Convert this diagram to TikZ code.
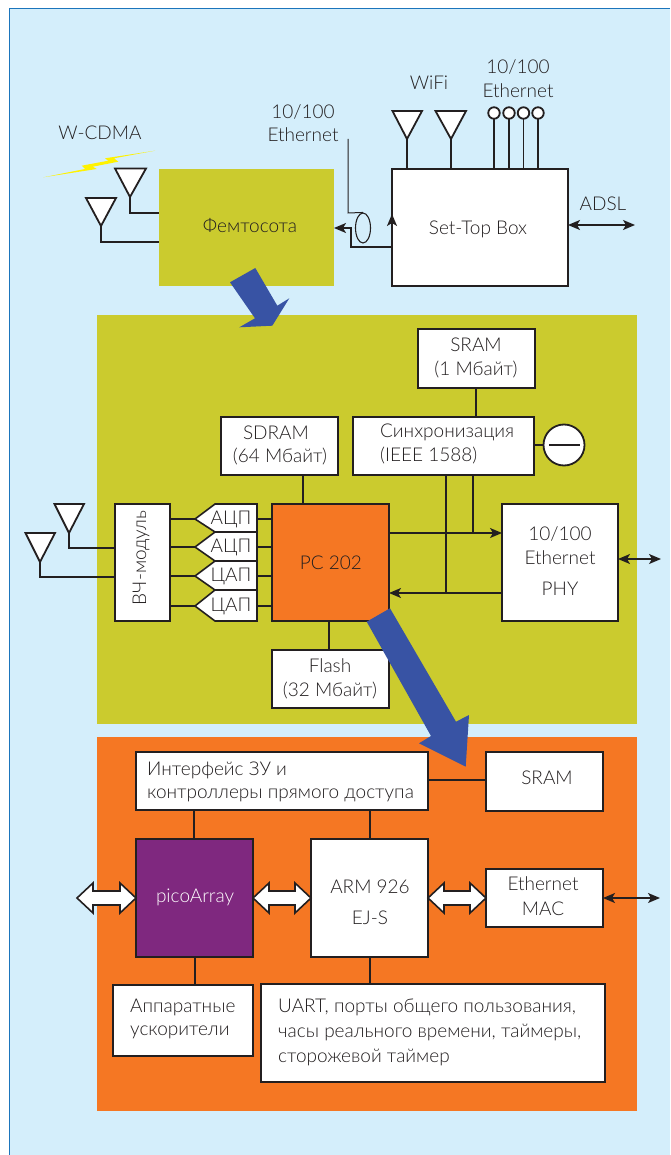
\documentclass[tikz,border=0pt]{standalone}
\usepackage{fontspec}
\setmainfont{Lato Light}
\usetikzlibrary{arrows.meta,shapes.geometric}
\definecolor{sky}{HTML}{D4EEFB}
\definecolor{edge}{HTML}{1B75BC}
\definecolor{olive}{HTML}{CBCB2E}
\definecolor{orng}{HTML}{F57723}
\definecolor{bluea}{HTML}{3853A4}
\definecolor{purp}{HTML}{7F287F}
\definecolor{ink}{HTML}{231F20}
\definecolor{bolt}{HTML}{FFF200}
\tikzset{
 x=1pt,y=-1pt,
 wbox/.style={draw=ink,line width=1.6pt,fill=white,inner sep=0pt,outer sep=0pt,anchor=north west},
 txt/.style={font=\fontsize{19}{22}\selectfont,text=ink,inner sep=0pt,align=center},
 wire/.style={draw=ink,line width=1.5pt},
 thinw/.style={draw=ink,line width=1pt},
 tip/.style={-{Stealth[length=12pt,width=10pt,inset=3pt]}},
 tiptwo/.style={{Stealth[length=12pt,width=10pt,inset=3pt]}-{Stealth[length=12pt,width=10pt,inset=3pt]}},
 ant/.style={draw=ink,line width=1.8pt,fill=white,line join=miter},
 fat/.style={draw=ink,line width=1.6pt,fill=white,line join=miter},
}
\begin{document}
\begin{tikzpicture}
\useasboundingbox (0,0) rectangle (670,1155);
\fill[white] (0,0) rectangle (670,1155);
\fill[sky] (9.5,9) rectangle (670,1155);
\draw[edge,line width=1pt] (670,9) -- (9.5,9) -- (9.5,1155);
% panels
\fill[olive] (159,169) rectangle (334,286);
\fill[olive] (97,315) rectangle (637,724);
\fill[orng] (97,737) rectangle (637,1111);
\node[txt] (femtolabel) at (250,226) {Фемтосота};
% lightning
\fill[bolt] (155,150.7) -- (105,158.3) -- (108.3,160.7) -- (81.7,165.7) -- (85,169) -- (43.3,177.3) -- (96.7,169) -- (92.7,166.7) -- (118.3,161.7) -- (114,158.3) -- cycle;
\node[txt] (wcdma) at (100,133) {W-CDMA};
% femto antennas
\coordinate (fa) at (130,197); \coordinate (fb) at (101,226);
\draw[wire] (fa) -- (130,213) -- (159,213);
\draw[wire] (fb) -- (101,242) -- (159,242);
\draw[ant] (115,168.5) -- (146,168.5) -- (fa) -- cycle;
\draw[ant] (86,198) -- (116,198) -- (fb) -- cycle;
% set-top
\node[wbox,minimum width=176pt,minimum height=117pt] (stb) at (392,169) {};
\node[txt] (stbl) at (478,229) {Set-Top Box};
\coordinate (wa) at (407,139); \coordinate (wb) at (451,139);
\draw[wire] (wa) -- (wa|-stb.north);
\draw[wire] (wb) -- (wb|-stb.north);
\draw[ant] (392.5,111) -- (422,111) -- (wa) -- cycle;
\draw[ant] (435.5,111) -- (466,111) -- (wb) -- cycle;
\foreach \n/\x in {a/494,b/509,c/523.5,d/538}{
  \draw[wire] (\x,113) -- (\x,169);
  \node[draw=ink,line width=1.8pt,fill=white,circle,minimum size=11.5pt,inner sep=0pt] (port\n) at (\x,113) {};
}
\node[txt] (wifi) at (429,83) {WiFi};
\node[txt] (e1a) at (518,67) {10/100};
\node[txt] (e1b) at (518,91) {Ethernet};
\node[txt] (adsll) at (603,204) {ADSL};
\coordinate (adsl) at (635,225);
\draw[wire,tiptwo] (stb.east|-adsl) -- (adsl);
\node[txt] (e2a) at (303,112) {10/100};
\node[txt] (e2b) at (303,135) {Ethernet};
\coordinate (st) at (392,247);
\draw[wire,tip] (st) -- (351,247) -- (351,228) -- (334,228);
\draw[wire,tip] (st) -- (392,214);
\node[draw=ink,line width=1.1pt,ellipse,minimum width=15pt,minimum height=30pt,inner sep=0pt] (coax) at (363,228) {};
\draw[thinw] (348,139) -- (348,213) -- (coax.north);
% arrow 1
\fill[bluea] (230,282.3) -- (255.3,268) -- (277.3,305.7) -- (289.3,298.3) -- (272.3,325.7) -- (239.3,327.3) -- (255,318.3) -- cycle;
% main block
\node[wbox,minimum width=117pt,minimum height=59pt] (sram1) at (418,329) {};
\node[txt] (sram1a) at (476,345) {SRAM};
\node[txt] (sram1b) at (476,370) {(1 Мбайт)};
\node[wbox,minimum width=181pt,minimum height=58pt] (sync) at (353,417) {};
\node[txt,anchor=west] (synca) at (380,432) {Синхронизация};
\node[txt,anchor=west] (syncb) at (380,456) {(IEEE 1588)};
\node[draw=ink,line width=1.8pt,fill=white,circle,minimum size=41pt,inner sep=0pt] (osc) at (564,445) {};
\draw[wire] (549,445) -- (580,445);
\draw[wire] (sync.east|-osc) -- (osc);
\draw[wire] (sram1.south-|476,0) -- (sync.north-|476,0);
\node[wbox,minimum width=117pt,minimum height=58pt] (sdram) at (221,417) {};
\node[txt] (sdrama) at (276,433) {SDRAM};
\node[txt] (sdramb) at (280,457) {(64 Мбайт)};
\node[wbox,fill=orng,minimum width=117pt,minimum height=117pt] (pc) at (272,504) {};
\node[txt] (pcl) at (331,563) {PC 202};
\node[wbox,minimum width=55pt,minimum height=117pt] (rf) at (115,504) {};
\node[txt,rotate=90] (rfl) at (141,558) {ВЧ-модуль};
\foreach \n/\ya/\yb/\yc/\l in {a/504/519/532/АЦП,b/532/547/561/АЦП,c/561/576/590/ЦАП,d/590/606/621/ЦАП}{
  \coordinate (cv\n) at (195,\yb);
  \coordinate (cw\n) at (257,\yb);
  \draw[wire] (rf.east|-cv\n) -- (cv\n);
  \draw[wire] (cw\n) -- (pc.west|-cw\n);
  \draw[fat] (cv\n) -- (215,\ya) -- (257,\ya) -- (257,\yc) -- (215,\yc) -- cycle;
  \node[txt] (cl\n) at (231,\yb) {\l};
}
\coordinate (ra) at (69,533); \coordinate (rb) at (40,562);
\draw[wire] (ra) -- (69,548) -- (rf.west|-0,548);
\draw[wire] (rb) -- (40,577) -- (rf.west|-0,577);
\draw[ant] (54.5,504) -- (84,504) -- (ra) -- cycle;
\draw[ant] (25.5,533) -- (55,533) -- (rb) -- cycle;
\draw[wire] (sdram.south-|303,0) -- (pc.north-|303,0);
\node[wbox,minimum width=117pt,minimum height=58pt] (flash) at (272,650) {};
\node[txt] (flasha) at (330,666) {Flash};
\node[txt] (flashb) at (330,691) {(32 Мбайт)};
\draw[wire] (pc.south-|329,0) -- (flash.north-|329,0);
\node[wbox,minimum width=116pt,minimum height=117pt] (phy) at (502,504) {};
\node[txt] (phya) at (560,534) {10/100};
\node[txt] (phyb) at (560,558) {Ethernet};
\node[txt] (phyc) at (560,589) {PHY};
\draw[wire,tip] (pc.east|-0,533) -- (phy.west|-0,533);
\draw[wire,tip] (phy.west|-0,593) -- (pc.east|-0,593);
\draw[wire] (sync.south-|446,0) -- (446,593);
\draw[wire] (sync.south-|473,0) -- (473,533);
\coordinate (phyr) at (661,559);
\draw[wire,tiptwo] (phy.east|-phyr) -- (phyr);
% lower block
\node[wbox,minimum width=292pt,minimum height=58pt] (mem) at (136,752) {};
\node[txt,anchor=west] (mema) at (147,770) {Интерфейс ЗУ и};
\node[txt,anchor=west] (memb) at (147,795) {контроллеры прямого доступа};
\node[wbox,minimum width=117pt,minimum height=59pt] (sram2) at (486,752) {};
\node[txt] (sram2l) at (547,778) {SRAM};
\draw[wire] (mem.east|-0,780) -- (sram2.west|-0,780);
\node[wbox,fill=purp,minimum width=117pt,minimum height=118pt] (pico) at (136,839) {};
\node[txt,text=white] (picol) at (195,897) {picoArray};
\node[wbox,minimum width=117pt,minimum height=118pt] (arm) at (311,839) {};
\node[txt] (arma) at (370,887) {ARM 926};
\node[txt] (armb) at (370,918) {EJ-S};
\node[wbox,minimum width=117pt,minimum height=58pt] (mac) at (486,869) {};
\node[txt] (maca) at (543,884) {Ethernet};
\node[txt] (macb) at (543,909) {MAC};
\draw[wire] (mem.south-|194,0) -- (pico.north-|194,0);
\draw[wire] (mem.south-|370,0) -- (arm.north-|370,0);
\coordinate (macr) at (660,898);
\draw[wire,tiptwo] (mac.east|-macr) -- (macr);
\foreach \a/\b in {77/136,253/311,428/486}{
  \draw[fat] (\a,898) -- (\a+16,883) -- (\a+16,891) -- (\b-16,891) -- (\b-16,883) -- (\b,898) -- (\b-16,913) -- (\b-16,905) -- (\a+16,905) -- (\a+16,913) -- cycle;
}
\node[wbox,minimum width=140pt,minimum height=71pt] (acc) at (113,985) {};
\node[txt,anchor=west] (acca) at (130,1007) {Аппаратные};
\node[txt,anchor=west] (accb) at (130,1032) {ускорители};
\node[wbox,minimum width=344pt,minimum height=98pt] (uart) at (261,984) {};
\node[txt,anchor=west] (ua) at (278,1007) {UART, порты общего пользования,};
\node[txt,anchor=west] (ub) at (278,1032) {часы реального времени, таймеры,};
\node[txt,anchor=west] (uc) at (278,1057) {сторожевой таймер};
\draw[wire] (pico.south-|195,0) -- (acc.north-|195,0);
\draw[wire] (arm.south-|370,0) -- (uart.north-|370,0);
% arrow 2
\fill[bluea] (366.7,621.7) -- (390,608.3) -- (456,721.7) -- (469,715) -- (465.7,766.7) -- (419,743.3) -- (431,736) -- cycle;
\end{tikzpicture}
\end{document}
